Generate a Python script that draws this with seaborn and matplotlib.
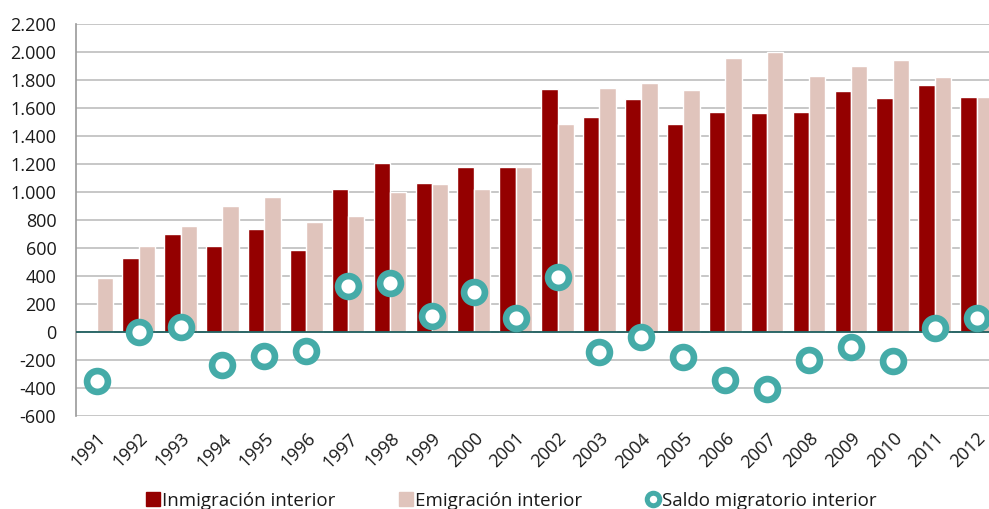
import matplotlib
matplotlib.use("Agg")
import matplotlib.pyplot as plt
import matplotlib.ticker as mticker
from matplotlib.lines import Line2D
import seaborn as sns
import pandas as pd

years = [str(y) for y in range(1991, 2013)]
inmigracion = [0, 531, 700, 615, 736, 586, 1025, 1211, 1068, 1180, 1180,
               1740, 1537, 1664, 1490, 1576, 1566, 1569, 1721, 1676, 1764, 1683]
emigracion = [388, 612, 758, 899, 968, 784, 827, 997, 1056, 1020, 1180,
              1490, 1743, 1778, 1728, 1957, 2005, 1829, 1901, 1943, 1824, 1683]
saldo = [-355, 2, 33, -234, -175, -137, 326, 350, 114, 286, 97,
         391, -141, -39, -177, -344, -411, -198, -112, -210, 26, 99]
yticks = list(range(-600, 2201, 200))

lab_in = "Inmigración interior"
lab_em = "Emigración interior"
lab_sa = "Saldo migratorio interior"
c_in = "#940000"
c_em = "#E0C4BC"
c_sa = "#45ABA8"

sns.set_theme(style="white")
plt.rcParams["font.family"] = ["Open Sans", "DejaVu Sans"]

bars = pd.DataFrame({
    "year": years * 2,
    "value": inmigracion + emigracion,
    "serie": [lab_in] * len(years) + [lab_em] * len(years),
})
pts = pd.DataFrame({"year": years, "saldo": saldo})

fig = plt.figure(figsize=(9.89, 5.09), dpi=100)
ax = fig.add_axes([0.0766, 0.1833, 0.932, 0.769])

sns.barplot(data=bars, x="year", y="value", hue="serie", order=years,
            hue_order=[lab_in, lab_em], palette=[c_in, c_em], width=0.78,
            gap=0, saturation=1, ax=ax, legend=False, zorder=2)
sns.stripplot(data=pts, x="year", y="saldo", order=years, jitter=False,
              size=15, color="white", edgecolor=c_sa, linewidth=4.8,
              ax=ax, zorder=5, legend=False)

ax.set_xlim(-0.5, len(years) - 0.5)
ax.set_ylim(-600, 2200)
ax.set_yticks(yticks)
ax.yaxis.set_major_formatter(mticker.FuncFormatter(
    lambda v, p: f"{int(round(v)):,}".replace(",", ".")))
ax.grid(axis="y", color="#B8B8B8", linewidth=1.1, zorder=0)
ax.set_axisbelow(True)
ax.axhline(0, color="#1E5E5E", linewidth=1.3, zorder=3)

for s in ["top", "right", "bottom"]:
    ax.spines[s].set_visible(False)
ax.spines["left"].set_color("#9A9A9A")
ax.spines["left"].set_linewidth(1.2)

ax.set_xlabel("")
ax.set_ylabel("")
ax.tick_params(axis="y", length=0, pad=14, labelsize=13, labelcolor="#1a1a1a")
ax.tick_params(axis="x", length=0, pad=10, labelsize=13, labelcolor="#1a1a1a")
for t in ax.get_xticklabels():
    t.set_rotation(45)
    t.set_ha("right")
    t.set_rotation_mode("anchor")

handles = [
    Line2D([], [], linestyle="none", marker="s", markersize=10,
           markerfacecolor=c_in, markeredgecolor=c_in),
    Line2D([], [], linestyle="none", marker="s", markersize=10,
           markerfacecolor=c_em, markeredgecolor=c_em),
    Line2D([], [], linestyle="none", marker="o", markersize=9,
           markerfacecolor="white", markeredgecolor=c_sa, markeredgewidth=3.6),
]
fig.legend(handles, [lab_in, lab_em, lab_sa], loc="lower center",
           bbox_to_anchor=(0.517, -0.035), ncol=3, frameon=False,
           fontsize=13.5, handlelength=0.7, handletextpad=0.15,
           columnspacing=3.4, labelcolor="#1a1a1a")

fig.savefig("out.png", dpi=100)
